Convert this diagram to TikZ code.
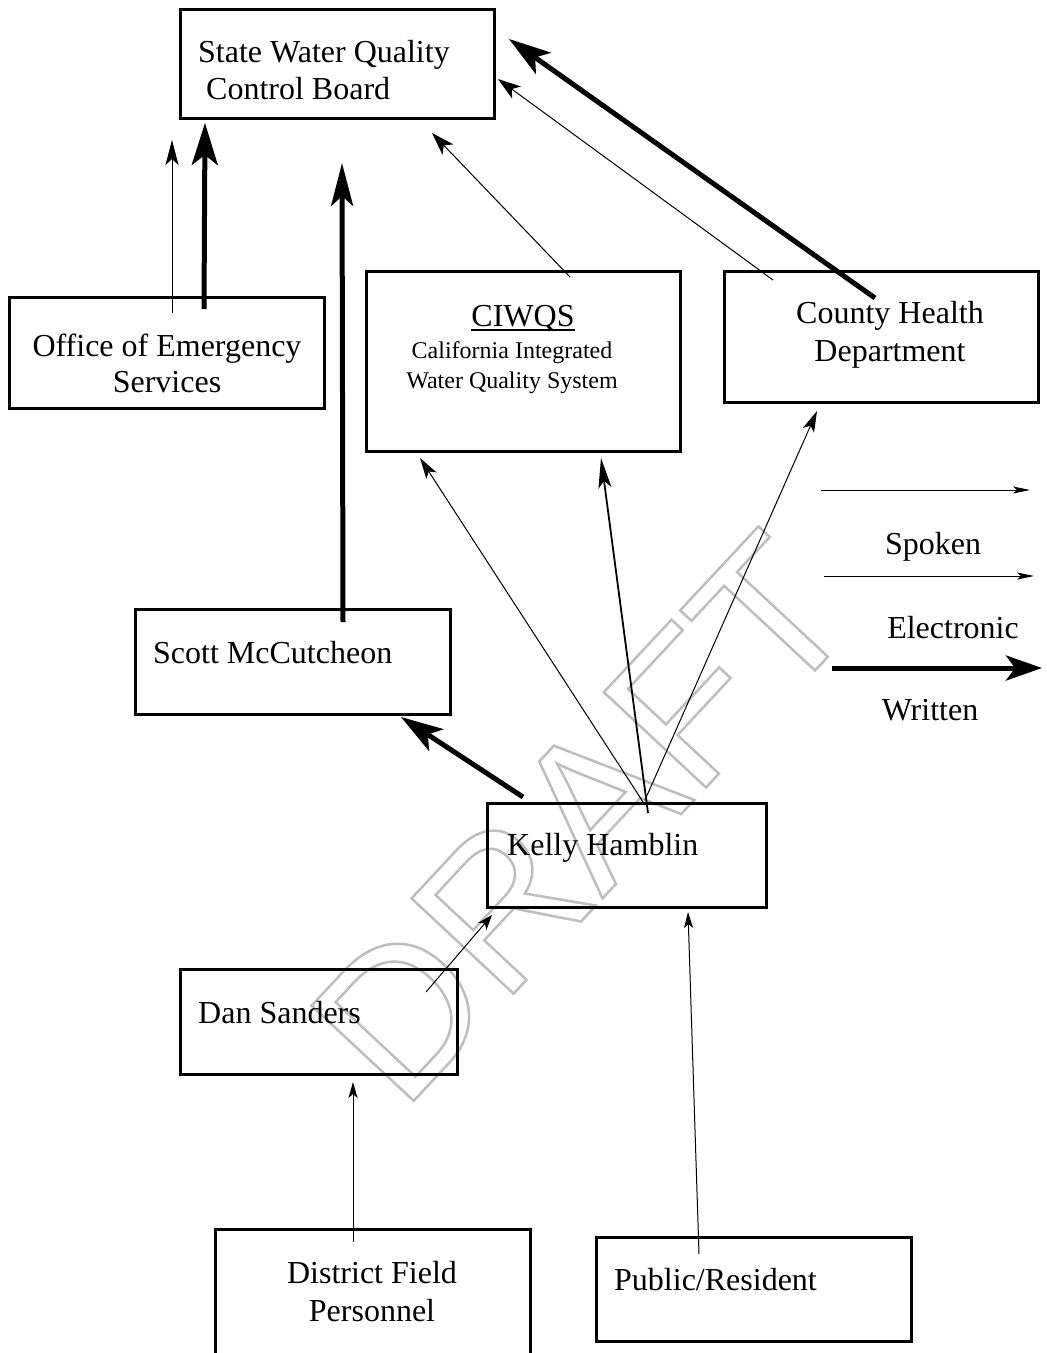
\documentclass[tikz,border=0pt]{standalone}
\usepackage{fontspec}
\setmainfont{Liberation Serif}
\newfontfamily\wmfont{Liberation Sans}
\usetikzlibrary{arrows.meta}
\definecolor{wmgray}{RGB}{190,190,190}
\newcommand\outlinetxt[1]{\special{pdf:literal direct 1 Tr 2.5 w}#1\special{pdf:literal direct 0 Tr}}
\tikzset{
  box/.style={draw, line width=3pt, inner sep=0pt, outer sep=0pt},
  big/.style={font=\fontsize{32}{37}\selectfont, inner sep=0pt},
  small/.style={font=\fontsize{24}{31}\selectfont, inner sep=0pt},
  thinarr/.style={line width=1pt, -{Stealth[length=23pt,width=15pt,inset=6pt]}},
  tinyarr/.style={line width=1pt, -{Stealth[length=16pt,width=9pt,inset=4pt]}},
  legarr/.style={line width=1pt, -{Stealth[length=17pt,width=7pt,inset=4pt]}},
  midarr/.style={line width=1.8pt, -{Stealth[length=30pt,width=13pt,inset=7pt]}},
  thickarr/.style={line width=5pt, -{Stealth[length=42pt,width=26pt,inset=10pt]}},
  legthick/.style={line width=5pt, -{Stealth[length=36pt,width=25pt,inset=9pt]}},
}
\begin{document}
\begin{tikzpicture}[x=1pt,y=-1pt]
\useasboundingbox (0,0) rectangle (1047,1353);
\clip (0,0) rectangle (1047,1353);
\fill[white] (0,0) rectangle (1047,1353);

% watermark
\begin{scope}
  \node[text=wmgray, font=\wmfont\fontsize{203}{203}\selectfont, rotate=47, inner sep=0pt] (wm) at (582,818) {\outlinetxt{DRAFT}};
\end{scope}

% boxes
\node[box, minimum width=314pt, minimum height=109pt] (swqcb) at (337,63.5) {};
\node[box, minimum width=315pt, minimum height=111pt] (oes) at (166.5,352.5) {};
\node[box, minimum width=314pt, minimum height=180pt] (ciwqs) at (523,361) {};
\node[box, minimum width=314pt, minimum height=131pt] (county) at (881,336.5) {};
\node[box, minimum width=315pt, minimum height=105pt] (scott) at (292.5,661.5) {};
\node[box, minimum width=279pt, minimum height=104pt] (kelly) at (626.5,855) {};
\node[box, minimum width=277pt, minimum height=105pt] (dan) at (318.5,1021.5) {};
\node[box, minimum width=315pt, minimum height=151pt] (district) at (372.5,1304.5) {};
\node[box, minimum width=315pt, minimum height=104pt] (public) at (753.5,1289) {};

% texts
\node[big, anchor=base west] (swqcbA) at (198,62) {State Water Quality};
\node[big, anchor=base west] (swqcbB) at (206,99) {Control Board};
\node[big, anchor=base] (oesA) at (167,356) {Office of Emergency};
\node[big, anchor=base] (oesB) at (167,392) {Services};
\node[big, anchor=base] (ciwqsT) at (523,326) {CIWQS};
\draw[line width=1.5pt] ([yshift=-4pt]ciwqsT.base west) -- ([yshift=-4pt]ciwqsT.base east);
\node[small, anchor=base] (ciwqsA) at (512,358) {California Integrated};
\node[small, anchor=base] (ciwqsB) at (512,388) {Water Quality System};
\node[big, anchor=base] (countyA) at (890,323) {County Health};
\node[big, anchor=base] (countyB) at (890,361) {Department};
\node[big, anchor=base west] (scottT) at (153,663) {Scott McCutcheon};
\node[big, anchor=base west] (kellyT) at (507,855) {Kelly Hamblin};
\node[big, anchor=base west] (danT) at (198,1023) {Dan Sanders};
\node[big, anchor=base] (distA) at (372,1283) {District Field};
\node[big, anchor=base] (distB) at (372,1321) {Personnel};
\node[big, anchor=base west] (pubT) at (614,1290) {Public/Resident};
\node[big, anchor=base] (spoken) at (933,554) {Spoken};
\node[big, anchor=base] (electronic) at (953,638) {Electronic};
\node[big, anchor=base] (written) at (930,720) {Written};

% connector end points
\coordinate (oesThinS) at (172,313);   \coordinate (oesThinE) at (172,140);
\coordinate (oesThickS) at (204,309);  \coordinate (oesThickE) at (205,123);
\coordinate (scottS) at (343,622);     \coordinate (scottE) at (342,163);
\coordinate (ciwqsS) at (570,277);     \coordinate (ciwqsE) at (432,133);
\coordinate (cntThinS) at (773,280);   \coordinate (cntThinE) at (498,79);
\coordinate (cntThickS) at (875,298);  \coordinate (cntThickE) at (509,39);
\coordinate (kelScS) at (523,797);     \coordinate (kelScE) at (401,717);
\coordinate (kelCiAS) at (645,805);    \coordinate (kelCiAE) at (420,458);
\coordinate (kelCiBS) at (648,813);    \coordinate (kelCiBE) at (601,458);
\coordinate (kelCoS) at (645,800);     \coordinate (kelCoE) at (817,411);
\coordinate (danS) at (426,992);       \coordinate (danE) at (492,915);
\coordinate (pubS) at (699,1254);      \coordinate (pubE) at (688,912);
\coordinate (distS) at (353,1242);     \coordinate (distE) at (353,1082);
\coordinate (leg1S) at (821,490);      \coordinate (leg1E) at (1030,490);
\coordinate (leg2S) at (824,576);      \coordinate (leg2E) at (1034,576);
\coordinate (leg3S) at (832,668);      \coordinate (leg3E) at (1042,668);

% connectors
\draw[thinarr, -{Stealth[length=25pt,width=13pt,inset=6pt]}] (oesThinS) -- (oesThinE);
\draw[thickarr] (oesThickS) -- (oesThickE);
\draw[thickarr, -{Stealth[length=43pt,width=22pt,inset=10pt]}] (scottS) -- (scottE);
\draw[thinarr] (ciwqsS) -- (ciwqsE);
\draw[thinarr] (cntThinS) -- (cntThinE);
\draw[thickarr] (cntThickS) -- (cntThickE);
\draw[thickarr] (kelScS) -- (kelScE);
\draw[thinarr, -{Stealth[length=21pt,width=12pt,inset=5pt]}] (kelCiAS) -- (kelCiAE);
\draw[midarr] (kelCiBS) -- (kelCiBE);
\draw[thinarr, -{Stealth[length=21pt,width=12pt,inset=5pt]}] (kelCoS) -- (kelCoE);
\draw[tinyarr, -{Stealth[length=15pt,width=11pt,inset=4pt]}] (danS) -- (danE);
\draw[tinyarr] (pubS) -- (pubE);
\draw[tinyarr] (distS) -- (distE);
\draw[legarr] (leg1S) -- (leg1E);
\draw[legarr] (leg2S) -- (leg2E);
\draw[legthick] (leg3S) -- (leg3E);
\end{tikzpicture}
\end{document}
